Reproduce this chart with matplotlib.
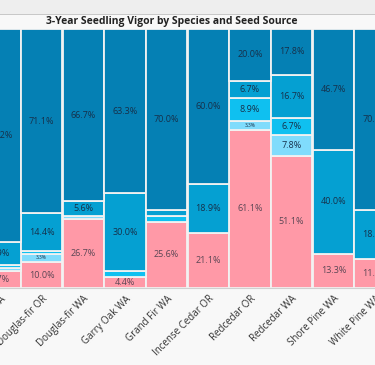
import matplotlib.pyplot as plt
import numpy as np

# seed sources (first and last columns are cut off by the crop)
sources = ['Bigleaf Maple WA', 'Douglas-fir OR', 'Douglas-fir WA', 'Garry Oak WA',
           'Grand Fir WA', 'Incense Cedar OR', 'Redcedar OR', 'Redcedar WA',
           'Shore Pine WA', 'White Pine WA']

# percent of seedlings in each vigor class, bottom to top
vigor1 = [6.7, 10.0, 26.7, 4.4, 25.6, 21.1, 61.1, 51.1, 13.3, 11.1]
vigor2 = [1.1, 3.3, 1.1, 0.0, 0.0, 0.0, 3.3, 7.8, 0.0, 0.0]
vigor3 = [1.1, 1.1, 0.0, 2.2, 2.2, 0.0, 8.9, 6.7, 0.0, 0.0]
vigor4 = [8.9, 14.4, 5.6, 30.0, 2.2, 18.9, 6.7, 16.7, 40.0, 18.9]
vigor5 = [82.2, 71.1, 66.7, 63.3, 70.0, 60.0, 20.0, 17.8, 46.7, 70.0]

series = [vigor1, vigor2, vigor3, vigor4, vigor5]
colors = ['#ff99a7', '#80dcfc', '#0fc0f0', '#05a0d2', '#0580b4']

plt.rcParams['font.family'] = ['Open Sans', 'DejaVu Sans']

fig = plt.figure(figsize=(3.75, 3.65), dpi=100)
fig.patch.set_facecolor('#f8f8f8')

# header bands
fig.patches.append(plt.Rectangle((0, 1 - 14 / 365), 1, 14 / 365, transform=fig.transFigure,
                                 facecolor='#eeeeee', edgecolor='none', zorder=0))
fig.patches.append(plt.Rectangle((0, 1 - 15 / 365), 1, 1 / 365, transform=fig.transFigure,
                                 facecolor='#c8c8c8', edgecolor='none', zorder=0))
fig.text(172 / 375, 1 - 21.5 / 365, '3-Year Seedling Vigor by Species and Seed Source',
         ha='center', va='center', fontsize=7.5, fontweight='bold', color='#222222')

ax = fig.add_axes([0, 77 / 365, 1, 259 / 365])
ax.set_facecolor('#f8f8f8')

x = np.arange(len(sources))
bottom = np.zeros(len(sources))
for vals, col in zip(series, colors):
    vals = np.array(vals)
    ax.bar(x, vals, width=0.985, bottom=bottom, color=col, edgecolor='#f2f2f2', linewidth=1.3)
    for xi, b, v in zip(x, bottom, vals):
        if v >= 4:
            ax.text(xi, b + v / 2, f'{v:.1f}%', ha='center', va='center', fontsize=6.5,
                    color='#16304a' if col != colors[0] else '#5a4654')
        elif v >= 3:
            ax.text(xi, b + v / 2, f'{v:.1f}%', ha='center', va='center', fontsize=3.5,
                    color='#16304a')
    bottom += vals

ax.set_xlim((0 + 2.1) / 42.8, (375 + 2.1) / 42.8)
ax.set_ylim(0, 100)
ax.set_yticks([])
ax.set_xticks(x)
ax.set_xticklabels(sources, rotation=45, ha='right', rotation_mode='anchor',
                   fontsize=7, color='#333333')
ax.tick_params(axis='x', length=0, pad=4)
for s in ['top', 'left', 'right']:
    ax.spines[s].set_visible(False)
ax.spines['bottom'].set_color('#d0d0d0')

plt.savefig('out.png', dpi=100, facecolor=fig.get_facecolor())
